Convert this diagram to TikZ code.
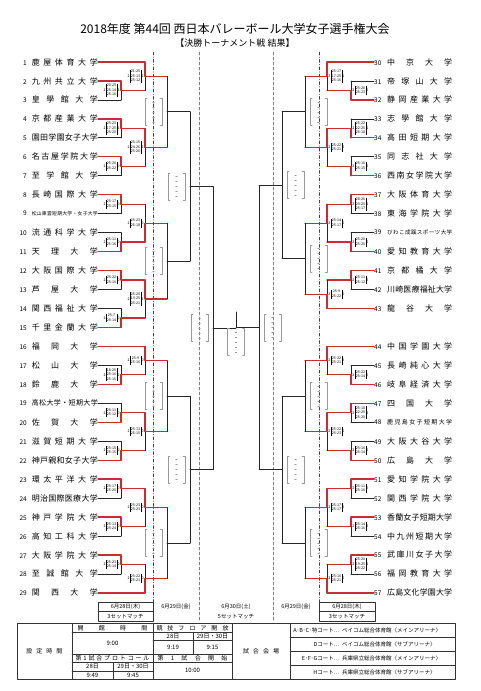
\documentclass[tikz,border=0pt]{standalone}
\usepackage{fontspec}
\setmainfont{Noto Sans CJK JP}
\definecolor{winred}{RGB}{200,45,55}
\setlength{\tabcolsep}{0.8pt}
\renewcommand{\arraystretch}{1}
\makeatletter
\newcommand\spreadname[1]{\let\sp@sep\relax\@tfor\sp@c:=#1\do{\sp@sep\sp@c\let\sp@sep\hfill}}
\makeatother
% one match: vertical at #1 between places #2 and #3, winner #4 (0 = not yet), out to #5
\newcommand\bout[5]{%
  \pgfmathsetmacro\bya{62+(#2-1)*18.96}%
  \pgfmathsetmacro\byb{62+(#3-1)*18.96}%
  \pgfmathsetmacro\bym{(\bya+\byb)/2}%
  \ifcase#4\relax
    \draw[lose] (#1,\bya) -- (#1,\byb) (#1,\bym) -- (#5,\bym);
  \or
    \draw[lose] (#1,\bym) -- (#1,\byb);
    \draw[win] (#1,\bya) -- (#1,\bym) -- (#5,\bym);
  \or
    \draw[lose] (#1,\bya) -- (#1,\bym);
    \draw[win] (#1,\byb) -- (#1,\bym) -- (#5,\bym);
  \fi}
\newcommand\score[5]{%
  \pgfmathsetmacro\bym{62+(#2-1)*18.96}%
  \node[scorebox] at ({#1-1.2},\bym) {#3\,\begin{tabular}{|c|}#4\end{tabular}\,#5};}
\newcommand\tbd[2]{%
  \pgfmathsetmacro\bym{62+(#2-1)*18.96}%
  \draw[tbdline] ({#1-6.5},{\bym-13.5}) -- ({#1-8.5},{\bym-13.5}) -- ({#1-8.5},{\bym+13.5}) -- ({#1-6.5},{\bym+13.5})
    ({#1+6.5},{\bym-13.5}) -- ({#1+8.5},{\bym-13.5}) -- ({#1+8.5},{\bym+13.5}) -- ({#1+6.5},{\bym+13.5});
  \foreach \k in {-2,...,2} \draw[tbdline] ({#1-0.8},{\bym+\k*5}) -- ({#1+0.8},{\bym+\k*5});}

\begin{document}
\begin{tikzpicture}[x=1pt, y=-1pt, line join=round, line cap=round,
  win/.style={draw=winred, line width=1.3pt},
  lose/.style={draw=black!85, line width=0.7pt},
  tbdline/.style={draw=gray!80, line width=0.5pt},
  cell/.style={draw=black!80, line width=0.5pt},
  team/.style={inner sep=0pt, font=\fontsize{6.5}{8}\selectfont},
  scorebox/.style={inner sep=0pt, font=\fontsize{3.6}{4.4}\selectfont},
  small/.style={inner sep=0pt, font=\fontsize{5.5}{6}\selectfont},
  tab/.style={inner sep=0pt, font=\fontsize{6}{7}\selectfont}]
\useasboundingbox (0,0) rectangle (480,691);

\node[inner sep=0pt, font=\fontsize{12}{14}\selectfont] (title) at (235,29) {2018年度 第44回 西日本バレーボール大学女子選手権大会};
\node[inner sep=0pt, font=\fontsize{9}{11}\selectfont] (sub) at (235,43.5) {【決勝トーナメント戦 結果】};

% day columns
\draw[black!75, dash dot, line width=0.5pt] (153,52) -- (153,621) (319,52) -- (319,621);
\draw[gray, densely dashed, line width=0.5pt] (199,52) -- (199,621) (273,52) -- (273,621);

% teams
\foreach \n/\nm/\c/\l/\fs in {1/鹿屋体育大学/win/47/8, 2/九州共立大学/win/23/8, 3/皇學館大学/lose/23/8,
  4/京都産業大学/win/23/8, 5/園田学園女子大学/lose/23/8, 6/名古屋学院大学/win/23/8, 7/至学館大学/lose/23/8,
  8/長崎国際大学/win/23/8, 9/松山東雲短期大学・女子大学/lose/23/4.8, 10/流通科学大学/lose/23/8,
  11/天理大学/win/23/8, 12/大阪国際大学/win/23/8, 13/芦屋大学/lose/23/8, 14/関西福祉大学/lose/23/8,
  15/千里金蘭大学/win/23/8, 16/福岡大学/win/47/8, 17/松山大学/lose/23/8, 18/鈴鹿大学/win/23/8,
  19/高松大学・短期大学/lose/23/7, 20/佐賀大学/win/23/8, 21/滋賀短期大学/lose/23/8, 22/神戸親和女子大学/win/23/8,
  23/環太平洋大学/win/23/8, 24/明治国際医療大学/lose/23/8, 25/神戸学院大学/win/23/8, 26/高知工科大学/lose/23/8,
  27/大阪学院大学/win/23/8, 28/至誠館大学/lose/23/8, 29/関西大学/win/47/8}{
  \pgfmathsetmacro\bym{62+(\n-1)*18.96}
  \node[team, anchor=east] (t\n) at (98,\bym) {\makebox[9pt][r]{\n}\hspace{5pt}\fontsize{\fs}{\fs}\selectfont\makebox[66pt][s]{\expandafter\spreadname\expandafter{\nm}}};
  \draw[\c] (t\n.east) -- ++(\l,0);
}
\foreach \n/\s/\nm/\c/\l/\fs in {30/1/中京大学/win/47/8, 31/2/帝塚山大学/lose/23/8, 32/3/静岡産業大学/win/23/8,
  33/4/志學館大学/lose/23/8, 34/5/高田短期大学/win/23/8, 35/6/同志社大学/lose/23/8, 36/7/西南女学院大学/win/23/8,
  37/8/大阪体育大学/win/23/8, 38/9/東海学院大学/lose/23/8, 39/10/びわこ成蹊スポーツ大学/lose/23/5.5,
  40/11/愛知教育大学/win/23/8, 41/12/京都橘大学/win/23/8, 42/13/川崎医療福祉大学/lose/23/8, 43/14/龍谷大学/win/47/8,
  44/16/中国学園大学/win/47/8, 45/17/長崎純心大学/lose/23/8, 46/18/岐阜経済大学/win/23/8, 47/19/四国大学/win/23/8,
  48/20/鹿児島女子短期大学/lose/23/6, 49/21/大阪大谷大学/lose/23/8, 50/22/広島大学/win/23/8, 51/23/愛知学院大学/win/23/8,
  52/24/関西学院大学/lose/23/8, 53/25/香蘭女子短期大学/win/23/8, 54/26/中九州短期大学/lose/23/8,
  55/27/武庫川女子大学/win/23/8, 56/28/福岡教育大学/lose/23/8, 57/29/広島文化学園大学/win/47/8}{
  \pgfmathsetmacro\bym{62+(\s-1)*18.96}
  \node[team, anchor=west] (t\n) at (374,\bym) {\makebox[8pt][l]{\n}\hspace{5pt}\fontsize{\fs}{\fs}\selectfont\makebox[65pt][s]{\expandafter\spreadname\expandafter{\nm}}};
  \draw[\c] (t\n.west) -- ++(-\l,0);
}

% left half
\begin{scope}[scorebox/.append style={anchor=east}]
\foreach \a/\w in {2/1,4/1,6/1,8/1,10/2,12/1,14/2,17/2,19/2,21/2,23/1,25/1,27/1} {\bout{121}{\a}{\a+1}{\w}{145}}
\foreach \a/\b/\w in {1/2.5/1,4.5/6.5/1,8.5/10.5/2,12.5/14.5/1,16/17.5/1,19.5/21.5/1,23.5/25.5/1,27.5/29/2} {\bout{145}{\a}{\b}{\w}{167}}
\foreach \a/\b in {1.75/5.5,9.5/13.5,16.75/20.5,24.5/28.25} {\bout{167}{\a}{\b}{0}{190}}
\foreach \a/\b in {3.625/11.5,18.625/26.375} {\bout{190}{\a}{\b}{0}{213}}
\bout{213}{7.5625}{22.5}{0}{236}
\foreach \x/\p/\na/\sets/\nb in {121/2.5/2/{20-25\\25-14\\25-16}/1, 121/4.5/2/{25-23\\17-25\\25-20}/1,
  121/6.5/2/{25-20\\25-22}/0, 121/8.5/2/{25-17\\25-15}/0, 121/10.5/2/{25-11\\25-16}/0, 121/12.5/2/{25-22\\25-16}/0,
  121/14.5/2/{25-7\\25-14}/0, 121/17.5/2/{18-25\\25-16\\25-15}/1, 121/19.5/2/{25-11\\25-12}/0,
  121/21.5/2/{25-15\\25-15}/0, 121/23.5/2/{25-17\\25-20}/0, 121/25.5/2/{25-13\\25-24}/0, 121/27.5/2/{25-23\\25-14}/0,
  145/1.75/2/{21-25\\25-13\\25-12}/1, 145/5.5/2/{25-15\\24-26\\25-20}/1, 145/9.5/2/{25-23\\25-18}/0,
  145/13.5/2/{25-20\\13-25\\25-21}/1, 145/16.75/2/{25-9\\25-16}/0, 145/20.5/2/{25-13\\25-15}/0,
  145/24.5/2/{25-23\\25-23}/0, 145/28.25/2/{25-22\\25-21}/0} {\score{\x}{\p}{\na}{\sets}{\nb}}
\foreach \p in {3.625,11.5,18.625,26.375} {\tbd{153.5}{\p}}
\foreach \p in {7.5625,22.5} {\tbd{176.5}{\p}}
\tbd{199.5}{15.03}
\end{scope}

% right half, mirrored
\begin{scope}[xshift=472pt, xscale=-1, scorebox/.append style={anchor=west}]
\foreach \a/\w in {2/2,4/2,6/2,8/1,10/2,12/1,17/2,19/1,21/2,23/1,25/1,27/1} {\bout{121}{\a}{\a+1}{\w}{145}}
\foreach \a/\b/\w in {1/2.5/1,4.5/6.5/1,8.5/10.5/1,12.5/14/2,16/17.5/1,19.5/21.5/1,23.5/25.5/1,27.5/29/2} {\bout{145}{\a}{\b}{\w}{167}}
\foreach \a/\b in {1.75/5.5,9.5/13.25,16.75/20.5,24.5/28.25} {\bout{167}{\a}{\b}{0}{190}}
\foreach \a/\b in {3.625/11.375,18.625/26.375} {\bout{190}{\a}{\b}{0}{213}}
\bout{213}{7.5}{22.5}{0}{236}
\foreach \x/\p/\na/\sets/\nb in {121/2.5/2/{25-20\\25-23}/0, 121/4.5/2/{25-22\\22-25\\25-18}/1,
  121/6.5/2/{25-16\\25-15}/0, 121/8.5/2/{28-26\\20-25\\25-17}/1, 121/10.5/2/{25-20\\25-20}/0,
  121/12.5/2/{25-11\\25-12}/0, 121/17.5/2/{25-22\\25-14}/0, 121/19.5/2/{25-18\\22-25\\25-20}/1,
  121/21.5/2/{25-16\\25-14}/0, 121/23.5/2/{25-11\\25-16}/0, 121/25.5/2/{25-14\\25-16}/0,
  121/27.5/2/{25-20\\19-25\\25-22}/1,
  145/1.75/2/{25-17\\17-25\\25-16}/1, 145/5.5/2/{25-22\\25-21}/0, 145/9.5/2/{25-14\\25-17}/0,
  145/13.25/2/{25-9\\25-22}/0, 145/16.75/2/{25-22\\25-21}/0, 145/20.5/2/{25-22\\25-23}/0,
  145/24.5/2/{25-17\\25-17}/0, 145/28.25/2/{25-16\\25-21}/0} {\score{\x}{\p}{\na}{\sets}{\nb}}
\foreach \p in {3.625,11.375,18.625,26.375} {\tbd{153.5}{\p}}
\foreach \p in {7.5,22.5} {\tbd{176.5}{\p}}
\tbd{199.5}{15}
\end{scope}

% final
\draw[lose] (236,312) -- (236,327.7);
\tbd{236}{15.77}

% days and sets
\foreach \xa/\xb/\i in {98/153/l,319/375/r}{
  \draw[cell] (\xa,602) rectangle (\xb,621) (\xa,611.5) -- (\xb,611.5);
  \node[small] (day\i) at ({(\xa+\xb)/2},606.8) {6月28日(木)};
  \node[small] (set\i) at ({(\xa+\xb)/2},616.3) {3セットマッチ};}
\node[small] (dayml) at (176,606.8) {6月29日(金)};
\node[small] (daym) at (236,606.8) {6月30日(土)};
\node[small] (daymr) at (296,606.8) {6月29日(金)};
\node[small] (setm) at (236,616.3) {5セットマッチ};

% time table
\draw[cell] (17,623.5) rectangle (455,679);
\draw[cell] (72,623.5) -- (72,679) (153,623.5) -- (153,679) (232,623.5) -- (232,679) (290,623.5) -- (290,679)
  (72,632) -- (232,632) (72,654) -- (232,654) (72,662.5) -- (232,662.5) (72,671) -- (153,671)
  (153,640) -- (232,640) (113,662.5) -- (113,679) (193,632) -- (193,654)
  (290,637.4) -- (455,637.4) (290,651.3) -- (455,651.3) (290,665.1) -- (455,665.1);
\node[tab] (tset) at (44.5,651) {\makebox[36pt][s]{\spreadname{設定時間}}};
\node[tab] (topen) at (112.5,627.8) {\makebox[70pt][s]{\spreadname{開館時間}}};
\node[tab] (topent) at (112.5,643) {9:00};
\node[tab] (tproto) at (112.5,658.3) {\makebox[74pt][s]{\spreadname{第1試合プロトコール}}};
\node[tab] (tp28) at (92.5,666.8) {28日};
\node[tab] (tp29) at (133,666.8) {29日・30日};
\node[tab] (tp28t) at (92.5,675) {9:49};
\node[tab] (tp29t) at (133,675) {9:45};
\node[tab] (tfloor) at (192.5,627.8) {\makebox[72pt][s]{\spreadname{競技フロア開放}}};
\node[tab] (tf28) at (173,636) {28日};
\node[tab] (tf29) at (212.5,636) {29日・30日};
\node[tab] (tf28t) at (173,647) {9:19};
\node[tab] (tf29t) at (212.5,647) {9:15};
\node[tab] (tfirst) at (192.5,658.3) {\makebox[70pt][s]{\spreadname{第1試合開始}}};
\node[tab] (tfirstt) at (192.5,670.8) {10:00};
\node[tab] (tvenue) at (261,651) {\makebox[36pt][s]{\spreadname{試合会場}}};
\foreach \y/\ct/\hall [count=\i] in {630.4/A･B･C･特コート…/ベイコム総合体育館〈メインアリーナ〉,
  644.3/Dコート…/ベイコム総合体育館〈サブアリーナ〉, 658.2/E･F･Gコート…/兵庫県立総合体育館〈メインアリーナ〉,
  672/Hコート…/兵庫県立総合体育館〈サブアリーナ〉}{
  \node[small, anchor=east] (ct\i) at (340,\y) {\ct};
  \node[small, anchor=west] (hall\i) at (342,\y) {\hall};}
\end{tikzpicture}
\end{document}
